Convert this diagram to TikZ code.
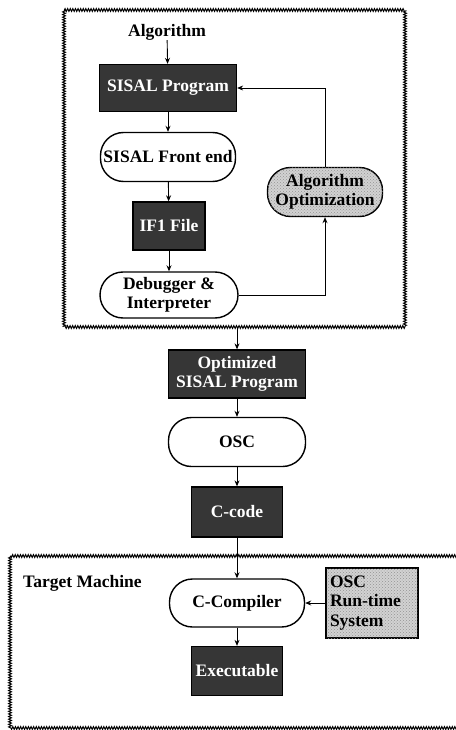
\documentclass[tikz,border=0pt]{standalone}
\usepackage{fontspec}
\setmainfont{Liberation Serif}
\usetikzlibrary{arrows.meta,patterns,decorations.pathmorphing}
\definecolor{boxdark}{HTML}{363636}
\begin{document}
\begin{tikzpicture}[x=1pt,y=-1pt,
  every node/.style={font=\fontsize{17.5}{19.5}\selectfont\bfseries, inner sep=0pt, align=center},
  darkbox/.style={draw=black, line width=1.3pt, fill=boxdark, text=white},
  roundbox/.style={draw=black, line width=1.4pt, fill=white, rounded corners=23pt},
  dotbox/.style={draw=black, line width=1.4pt, fill=gray!35,
    postaction={pattern=crosshatch dots, pattern color=gray!85}},
  frame/.style={draw=black, line width=1pt,
    decorate, decoration={zigzag, segment length=2.6pt, amplitude=1.4pt}},
  flow/.style={draw=black, line width=0.9pt, -{Stealth[length=6pt,width=5pt]}}
]
\useasboundingbox (0,0) rectangle (455,730);

% frames
\draw[frame] (64,10) rectangle (405,327);
\draw[frame] (10,556) rectangle (463,728);

% upper stage
\node (alg) at (167,32) {Algorithm};
\node[darkbox, minimum width=137pt, minimum height=47pt] (sp) at (168,88) {SISAL Program};
\node[roundbox, minimum width=135pt, minimum height=49pt] (fe) at (168,157) {SISAL Front end};
\node[darkbox, minimum width=72pt, minimum height=48pt] (if1) at (169,226) {IF1 File};
\node[roundbox, minimum width=138pt, minimum height=46pt] (dbg) at (169,295) {Debugger \&\\Interpreter};
\node[dotbox, rounded corners=23pt, minimum width=115pt, minimum height=49pt] (ao) at (325,192) {Algorithm\\Optimization};

% middle stage
\coordinate (out) at (237,327);
\node[darkbox, minimum width=137pt, minimum height=48pt] (osp) at (237,374) {Optimized\\SISAL Program};
\node[roundbox, minimum width=137pt, minimum height=49pt] (osc) at (237,442) {OSC};
\node[darkbox, minimum width=91pt, minimum height=50pt] (cc) at (237,512) {C-code};

% target machine
\node[anchor=west] (tm) at (23,583) {Target Machine};
\node[roundbox, minimum width=135pt, minimum height=48pt] (ccomp) at (237,603) {C-Compiler};
\node[darkbox, minimum width=91pt, minimum height=49pt] (exe) at (237,671) {Executable};
\node[dotbox, minimum width=92pt, minimum height=70pt, align=left, text width=84pt] (rts) at (372,603) {OSC\\Run-time\\System};

% connectors
\draw[flow] (alg) -- (sp);
\draw[flow] (sp) -- (fe);
\draw[flow] (fe) -- (if1);
\draw[flow] (if1) -- (dbg);
\draw[flow] (dbg.east) -| (ao.south);
\draw[flow] (ao.north) |- (sp.east);
\draw[flow] (out) -- (osp);
\draw[flow] (osp) -- (osc);
\draw[flow] (osc) -- (cc);
\draw[flow] (cc) -- (ccomp);
\draw[flow] (ccomp) -- (exe);
\draw[flow] (rts) -- (ccomp);
\end{tikzpicture}
\end{document}
